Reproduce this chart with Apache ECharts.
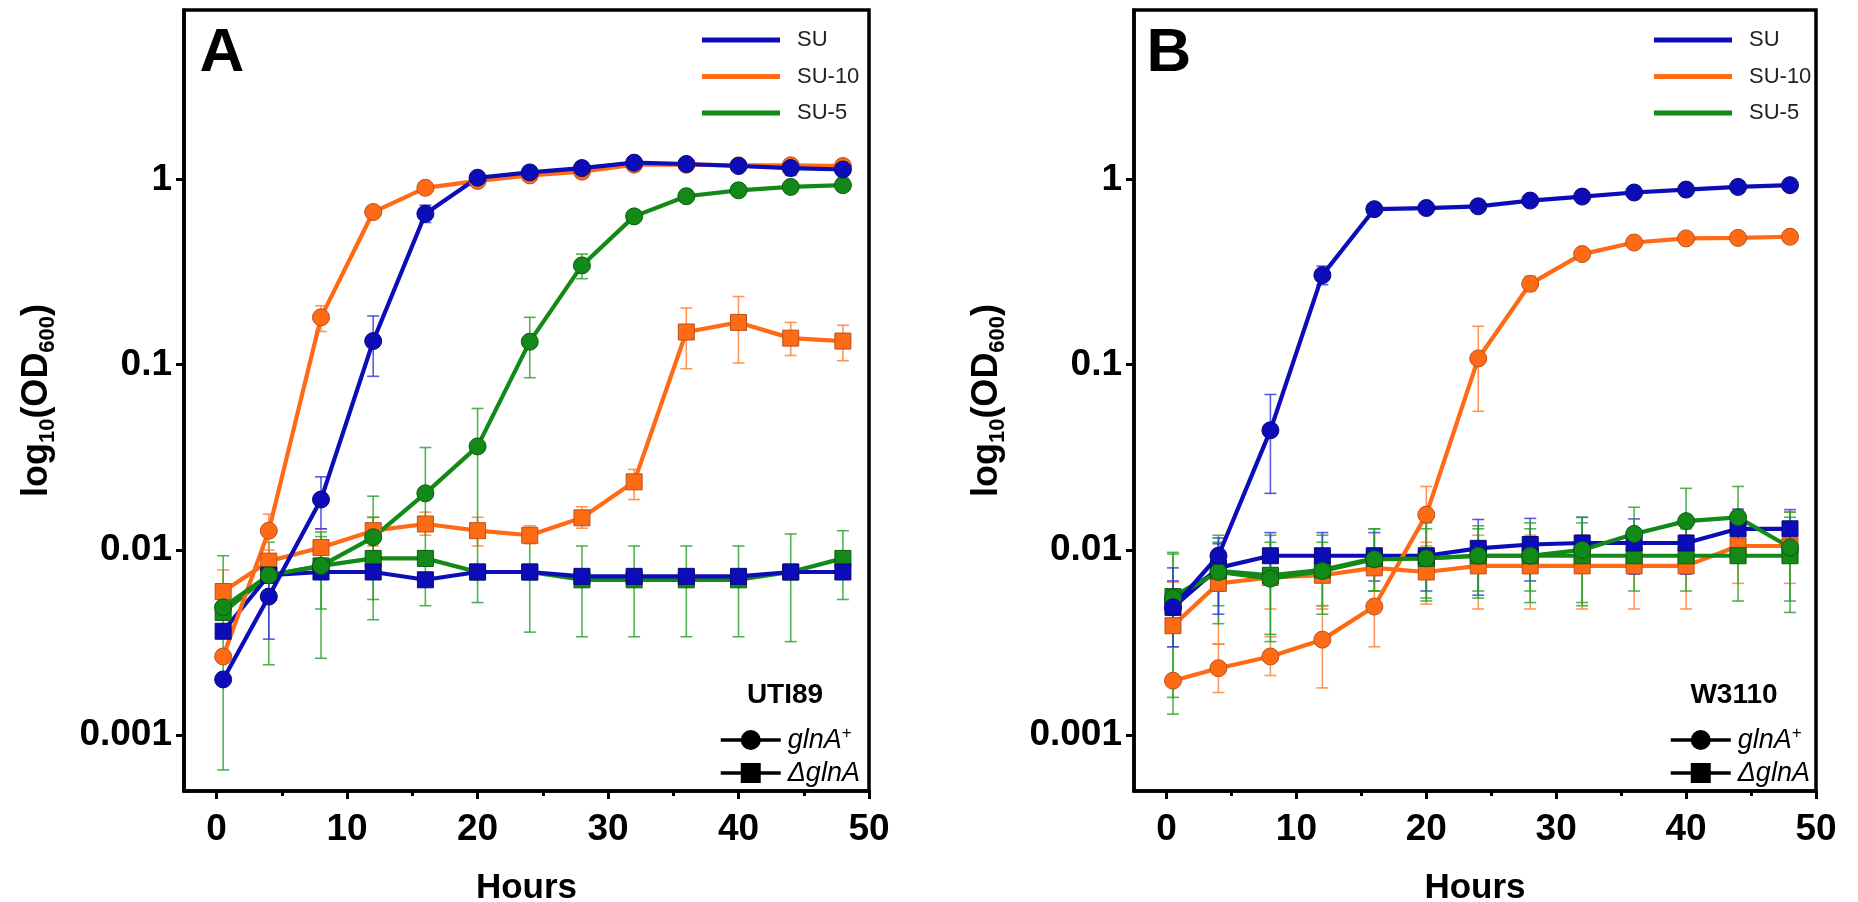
<!DOCTYPE html>
<html>
<head>
<meta charset="utf-8">
<script src="https://cdn.jsdelivr.net/npm/echarts@6/dist/echarts.min.js"></script>
<style>
  html, body { margin: 0; padding: 0; background: #ffffff; }
  #chart { width: 1858px; height: 902px; }
</style>
</head>
<body>
<div id="chart"></div>
<script>
// Sampling times (hours)
const hours = [0.5, 4, 8, 12, 16, 20, 24, 28, 32, 36, 40, 44, 48];

// Axis ticks
const xTickValues = [0, 10, 20, 30, 40, 50];
const xMinorTickValues = [5, 15, 25, 35, 45];
const yTickValues = [0.001, 0.01, 0.1, 1];
const yTickLabels = ['0.001', '0.01', '0.1', '1'];

// ---- UTI89 : OD600 means ----
const utiSU_wt   = [0.0020, 0.0056, 0.0187, 0.134, 0.652, 1.02, 1.09, 1.15, 1.23, 1.21, 1.18, 1.15, 1.13];
const utiSU10_wt = [0.00266, 0.0127, 0.180, 0.666, 0.90, 0.98, 1.05, 1.10, 1.20, 1.20, 1.19, 1.19, 1.18];
const utiSU5_wt  = [0.0049, 0.0073, 0.0082, 0.0117, 0.0202, 0.0362, 0.133, 0.343, 0.631, 0.81, 0.872, 0.91, 0.93];
const utiSU_ko   = [0.00364, 0.0073, 0.0076, 0.0076, 0.0069, 0.0076, 0.0076, 0.0072, 0.0072, 0.0072, 0.0072, 0.0076, 0.0076];
const utiSU10_ko = [0.00596, 0.0087, 0.0103, 0.0127, 0.0138, 0.0127, 0.0120, 0.0149, 0.0233, 0.150, 0.169, 0.139, 0.134];
const utiSU5_ko  = [0.0046, 0.0073, 0.0082, 0.0090, 0.0090, 0.0076, 0.0076, 0.0069, 0.0069, 0.0069, 0.0069, 0.0076, 0.0090];

// ---- UTI89 : error bar bounds (null = no visible bar) ----
const utiSU_wt_lo   = [null, 0.0033, 0.0130, 0.0865, 0.585, null, null, null, null, null, null, 1.05, 1.01];
const utiSU_wt_hi   = [null, 0.0078, 0.0248, 0.183, 0.725, null, null, null, null, null, null, 1.27, 1.25];
const utiSU10_wt_lo = [null, 0.0095, 0.151, 0.62, null, null, null, null, null, null, null, null, null];
const utiSU10_wt_hi = [null, 0.0156, 0.208, 0.70, null, null, null, null, null, null, null, null, null];
const utiSU5_wt_lo  = [0.00065, null, 0.0048, 0.0054, 0.0050, 0.0052, 0.085, 0.291, null, null, null, null, null];
const utiSU5_wt_hi  = [0.0093, null, 0.0118, 0.0150, 0.0357, 0.058, 0.180, 0.395, null, null, null, null, null];
const utiSU10_ko_lo = [0.0050, 0.0075, 0.0085, 0.0105, 0.0120, 0.0105, 0.0108, 0.0131, 0.0187, 0.095, 0.102, 0.112, 0.105];
const utiSU10_ko_hi = [0.0078, 0.0100, 0.0130, 0.0150, 0.0160, 0.0150, 0.0135, 0.0171, 0.0272, 0.202, 0.233, 0.169, 0.163];
const utiSU5_ko_lo  = [null, 0.0024, 0.0026, 0.0042, null, null, 0.0036, 0.0034, 0.0034, 0.0034, 0.0034, 0.0032, 0.0054];
const utiSU5_ko_hi  = [null, 0.0110, 0.0125, 0.0195, null, null, 0.0110, 0.0105, 0.0105, 0.0105, 0.0105, 0.0122, 0.0127];

// ---- W3110 : OD600 means ----
const wSU_wt   = [0.0049, 0.0093, 0.0442, 0.304, 0.69, 0.70, 0.715, 0.768, 0.807, 0.849, 0.88, 0.91, 0.93];
const wSU10_wt = [0.00197, 0.0023, 0.00266, 0.00328, 0.00495, 0.0155, 0.108, 0.273, 0.395, 0.456, 0.48, 0.483, 0.49];
const wSU5_wt  = [0.0055, 0.0076, 0.0070, 0.0077, 0.0089, 0.0090, 0.0093, 0.0093, 0.0100, 0.0122, 0.0143, 0.0150, 0.0103];
const wSU_ko   = [0.0049, 0.0080, 0.0093, 0.0093, 0.0093, 0.0093, 0.0102, 0.0107, 0.0109, 0.0109, 0.0109, 0.0130, 0.0130];
const wSU10_ko = [0.0039, 0.0066, 0.0071, 0.0073, 0.0080, 0.0076, 0.0082, 0.0082, 0.0082, 0.0082, 0.0082, 0.0105, 0.0105];
const wSU5_ko  = [0.0056, 0.0077, 0.0073, 0.0078, 0.0090, 0.0090, 0.0093, 0.0093, 0.0093, 0.0093, 0.0093, 0.0093, 0.0093];

// ---- W3110 : error bar bounds ----
const wSU_wt_lo   = [0.0030, 0.0045, 0.0202, 0.27, null, null, null, null, null, null, null, null, null];
const wSU_wt_hi   = [0.0080, 0.0116, 0.069, 0.34, null, null, null, null, null, null, null, null, null];
const wSU10_wt_lo = [null, 0.0017, 0.0021, 0.0018, 0.0030, 0.0110, 0.056, 0.25, null, null, null, null, null];
const wSU10_wt_hi = [null, 0.0031, 0.0034, 0.0050, 0.0080, 0.022, 0.161, 0.30, null, null, null, null, null];
const wSU5_wt_lo  = [0.0013, 0.0040, 0.0032, 0.0045, 0.0060, 0.0055, 0.0055, 0.0052, 0.0052, 0.0090, 0.0100, 0.0100, 0.0046];
const wSU5_wt_hi  = [0.0095, 0.0120, 0.0110, 0.0110, 0.0130, 0.0140, 0.0135, 0.0140, 0.0150, 0.0170, 0.0215, 0.0220, 0.0160];
const wSU_ko_lo   = [0.0036, 0.0060, 0.0070, 0.0070, 0.0068, 0.0060, 0.0057, 0.0068, 0.0075, 0.0074, 0.0074, 0.0100, 0.0100];
const wSU_ko_hi   = [0.0068, 0.0108, 0.0124, 0.0124, 0.0124, 0.0143, 0.0146, 0.0148, 0.0150, 0.0147, 0.0147, 0.0166, 0.0165];
const wSU10_ko_lo = [0.0030, 0.0031, 0.0048, 0.0048, 0.0060, 0.0051, 0.0048, 0.0048, 0.0048, 0.0048, 0.0048, 0.0066, 0.0066];
const wSU10_ko_hi = [0.0067, 0.0095, 0.0095, 0.0095, 0.0100, 0.0105, 0.0120, 0.0120, 0.0120, 0.0120, 0.0120, 0.0160, 0.0160];
const wSU5_ko_lo  = [0.0016, 0.0050, 0.0035, 0.0050, 0.0060, 0.0053, 0.0060, 0.0060, 0.0050, 0.0060, 0.0060, 0.0053, 0.0053];
const wSU5_ko_hi  = [0.0097, 0.0110, 0.0120, 0.0120, 0.0130, 0.0130, 0.0130, 0.0130, 0.0140, 0.0130, 0.0130, 0.0160, 0.0150];

const FONT = '"Liberation Sans", Arial, Helvetica, sans-serif';
const BLUE = '#0c0cb8', ORANGE = '#ff6a14', GREEN = '#138a17';
const BLUE_EDGE = '#08087a', ORANGE_EDGE = '#b4521f', GREEN_EDGE = '#0b5c0e';
const BLUE_ERR = 'rgba(50,50,225,0.8)', ORANGE_ERR = 'rgba(255,125,50,0.8)', GREEN_ERR = 'rgba(40,160,40,0.8)';

function errData(lo, hi) {
  const out = [];
  hours.forEach((h, i) => { if (lo[i] != null && hi[i] != null) out.push([h, lo[i], hi[i]]); });
  return out;
}

function errSeries(xi, yi, color, lo, hi) {
  return {
    type: 'custom', xAxisIndex: xi, yAxisIndex: yi, z: 1, silent: true,
    data: errData(lo, hi), encode: { x: 0, y: [1, 2] },
    renderItem: function (params, api) {
      const x = api.value(0);
      const a = api.coord([x, api.value(1)]);
      const b = api.coord([x, api.value(2)]);
      const w = 6;
      const st = { stroke: color, lineWidth: 1.6, fill: null };
      return {
        type: 'group', children: [
          { type: 'line', shape: { x1: a[0], y1: a[1], x2: b[0], y2: b[1] }, style: st },
          { type: 'line', shape: { x1: a[0] - w, y1: a[1], x2: a[0] + w, y2: a[1] }, style: st },
          { type: 'line', shape: { x1: b[0] - w, y1: b[1], x2: b[0] + w, y2: b[1] }, style: st }
        ]
      };
    }
  };
}

function lineSeries(name, xi, yi, color, edge, symbol, vals) {
  return {
    name: name, type: 'line', xAxisIndex: xi, yAxisIndex: yi, z: 2,
    data: hours.map((h, i) => [h, vals[i]]),
    symbol: symbol, symbolSize: symbol === 'circle' ? 17 : 16, showAllSymbol: true,
    lineStyle: { color: color, width: 4.2 },
    itemStyle: { color: color, borderColor: edge, borderWidth: 1 },
    emphasis: { disabled: true }
  };
}

function xAxes(grid) {
  return [
    {
      type: 'value', gridIndex: grid, min: -2.5, max: 50, position: 'bottom',
      axisLine: { show: true, onZero: false, lineStyle: { color: '#000', width: 3.5 } },
      axisTick: { show: true, customValues: xTickValues, length: 8, lineStyle: { color: '#000', width: 3 } },
      axisLabel: { customValues: xTickValues, fontSize: 37, fontWeight: 'bold', fontFamily: FONT, color: '#000', margin: 20 },
      splitLine: { show: false },
      name: 'Hours', nameLocation: 'middle', nameGap: 80,
      nameTextStyle: { fontSize: 35, fontWeight: 'bold', fontFamily: FONT, color: '#000' }
    },
    {
      type: 'value', gridIndex: grid, min: -2.5, max: 50, position: 'bottom',
      axisLine: { show: false, onZero: false },
      axisTick: { show: true, customValues: xMinorTickValues, length: 5, lineStyle: { color: '#000', width: 3 } },
      axisLabel: { show: false },
      splitLine: { show: false }
    }
  ];
}

function yAxis(grid) {
  return {
    type: 'log', logBase: 10, gridIndex: grid, min: 0.0005, max: 8.2,
    axisLine: { show: true, onZero: false, lineStyle: { color: '#000', width: 3.5 } },
    axisTick: { show: true, customValues: yTickValues, length: 8, lineStyle: { color: '#000', width: 3 } },
    axisLabel: {
      customValues: yTickValues, fontSize: 37, fontWeight: 'bold', fontFamily: FONT, color: '#000', margin: 12,
      formatter: function (v) {
        let best = 0;
        yTickValues.forEach((t, i) => { if (Math.abs(Math.log10(t) - Math.log10(v)) < Math.abs(Math.log10(yTickValues[best]) - Math.log10(v))) best = i; });
        return yTickLabels[best];
      }
    },
    splitLine: { show: false },
    name: '{m|log}{s|10}{m|(OD}{s|600}{m|)}', nameLocation: 'middle', nameRotate: 90, nameGap: 125,
    nameTextStyle: {
      rich: {
        m: { fontSize: 36, fontWeight: 'bold', fontFamily: FONT, color: '#000', lineHeight: 44 },
        s: { fontSize: 22, fontWeight: 'bold', fontFamily: FONT, color: '#000', lineHeight: 22, verticalAlign: 'bottom' }
      }
    }
  };
}

function topLegend(left) {
  return {
    data: ['SU', 'SU-10', 'SU-5'], orient: 'vertical', left: left, top: 23,
    icon: 'rect', itemWidth: 78, itemHeight: 5, itemGap: 12.5, selectedMode: false,
    itemStyle: { borderWidth: 0 },
    textStyle: { fontFamily: FONT, fontSize: 22, color: '#222', lineHeight: 24, padding: [0, 0, 0, 12] }
  };
}

function strainLegend(left) {
  return {
    data: ['glnA+', 'ΔglnA'], orient: 'vertical', left: left, top: 720,
    itemWidth: 60, itemHeight: 25, itemGap: 6, selectedMode: false,
    lineStyle: { color: '#000', width: 3.5 },
    itemStyle: { color: '#000', borderWidth: 0 },
    formatter: function (name) { return name === 'glnA+' ? '{i|glnA}{p|+}' : '{i|ΔglnA}'; },
    textStyle: {
      rich: {
        i: { fontSize: 27, fontStyle: 'italic', fontFamily: FONT, color: '#000', lineHeight: 30, padding: [0, 0, 0, 2] },
        p: { fontSize: 17, fontFamily: FONT, color: '#000', lineHeight: 17, verticalAlign: 'top' }
      }
    }
  };
}

const series = [
  // UTI89 panel
  errSeries(0, 0, ORANGE_ERR, utiSU10_ko_lo, utiSU10_ko_hi),
  errSeries(0, 0, GREEN_ERR, utiSU5_ko_lo, utiSU5_ko_hi),
  errSeries(0, 0, ORANGE_ERR, utiSU10_wt_lo, utiSU10_wt_hi),
  errSeries(0, 0, GREEN_ERR, utiSU5_wt_lo, utiSU5_wt_hi),
  errSeries(0, 0, BLUE_ERR, utiSU_wt_lo, utiSU_wt_hi),
  lineSeries('SU-10', 0, 0, ORANGE, ORANGE_EDGE, 'rect', utiSU10_ko),
  lineSeries('SU-5', 0, 0, GREEN, GREEN_EDGE, 'rect', utiSU5_ko),
  lineSeries('SU', 0, 0, BLUE, BLUE_EDGE, 'rect', utiSU_ko),
  lineSeries('SU-10', 0, 0, ORANGE, ORANGE_EDGE, 'circle', utiSU10_wt),
  lineSeries('SU-5', 0, 0, GREEN, GREEN_EDGE, 'circle', utiSU5_wt),
  lineSeries('SU', 0, 0, BLUE, BLUE_EDGE, 'circle', utiSU_wt),
  // W3110 panel
  errSeries(2, 1, ORANGE_ERR, wSU10_ko_lo, wSU10_ko_hi),
  errSeries(2, 1, GREEN_ERR, wSU5_ko_lo, wSU5_ko_hi),
  errSeries(2, 1, BLUE_ERR, wSU_ko_lo, wSU_ko_hi),
  errSeries(2, 1, ORANGE_ERR, wSU10_wt_lo, wSU10_wt_hi),
  errSeries(2, 1, GREEN_ERR, wSU5_wt_lo, wSU5_wt_hi),
  errSeries(2, 1, BLUE_ERR, wSU_wt_lo, wSU_wt_hi),
  lineSeries('SU-10', 2, 1, ORANGE, ORANGE_EDGE, 'rect', wSU10_ko),
  lineSeries('SU-5', 2, 1, GREEN, GREEN_EDGE, 'rect', wSU5_ko),
  lineSeries('SU', 2, 1, BLUE, BLUE_EDGE, 'rect', wSU_ko),
  lineSeries('SU-10', 2, 1, ORANGE, ORANGE_EDGE, 'circle', wSU10_wt),
  lineSeries('SU-5', 2, 1, GREEN, GREEN_EDGE, 'circle', wSU5_wt),
  lineSeries('SU', 2, 1, BLUE, BLUE_EDGE, 'circle', wSU_wt),
  // strain key entries (no data)
  { name: 'glnA+', type: 'line', xAxisIndex: 0, yAxisIndex: 0, data: [], symbol: 'circle',
    lineStyle: { color: '#000', width: 3.5 }, itemStyle: { color: '#000' } },
  { name: 'ΔglnA', type: 'line', xAxisIndex: 0, yAxisIndex: 0, data: [], symbol: 'rect',
    lineStyle: { color: '#000', width: 3.5 }, itemStyle: { color: '#000' } }
];

const chart = echarts.init(document.getElementById('chart'), null, { renderer: 'canvas' });
chart.setOption({
  animation: false,
  backgroundColor: '#ffffff',
  grid: [
    { left: 184, top: 10, width: 685, height: 781, outerBoundsMode: 'none', containLabel: false,
      show: true, borderColor: '#000', borderWidth: 3.5, backgroundColor: 'transparent' },
    { left: 1134, top: 10, width: 682, height: 781, outerBoundsMode: 'none', containLabel: false,
      show: true, borderColor: '#000', borderWidth: 3.5, backgroundColor: 'transparent' }
  ],
  xAxis: xAxes(0).concat(xAxes(1)),
  yAxis: [yAxis(0), yAxis(1)],
  legend: [topLegend(697), topLegend(1649), strainLegend(714), strainLegend(1664)],
  graphic: [
    { type: 'text', x: 222, y: 54, style: { text: 'A', font: 'bold 62px ' + FONT, align: 'center', verticalAlign: 'middle', fill: '#000' } },
    { type: 'text', x: 1169, y: 54, style: { text: 'B', font: 'bold 62px ' + FONT, align: 'center', verticalAlign: 'middle', fill: '#000' } },
    { type: 'text', x: 785, y: 695, style: { text: 'UTI89', font: 'bold 28px ' + FONT, align: 'center', verticalAlign: 'middle', fill: '#000' } },
    { type: 'text', x: 1734, y: 695, style: { text: 'W3110', font: 'bold 28px ' + FONT, align: 'center', verticalAlign: 'middle', fill: '#000' } }
  ],
  series: series
});
</script>
</body>
</html>
